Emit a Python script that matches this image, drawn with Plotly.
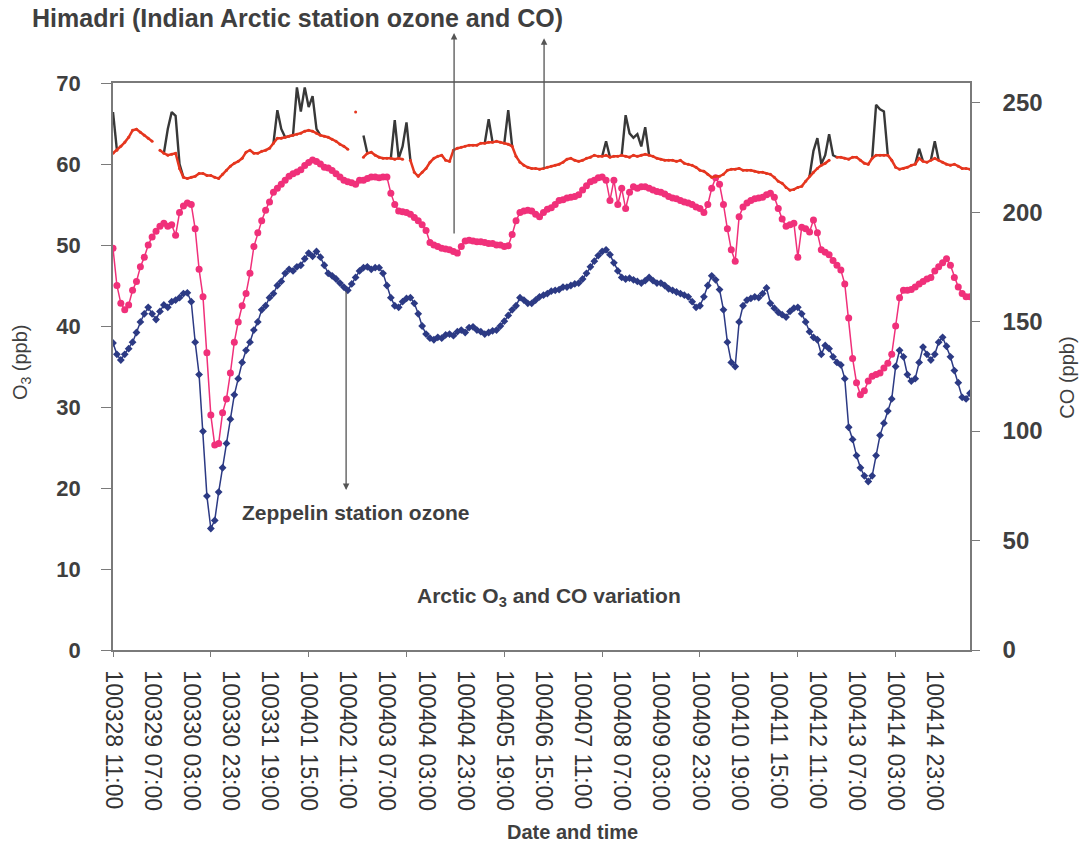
import plotly.graph_objects as go

FONT = "Liberation Sans, Arial, sans-serif"

# hourly axis, values every 2 hours from 100328 11:00
HOURS = list(range(0, 439, 2))

TICK_LABELS = ["100328 11:00", "100329 07:00", "100330 03:00", "100330 23:00",
               "100331 19:00", "100401 15:00", "100402 11:00", "100403 07:00",
               "100404 03:00", "100404 23:00", "100405 19:00", "100406 15:00",
               "100407 11:00", "100408 07:00", "100409 03:00", "100409 23:00",
               "100410 19:00", "100411 15:00", "100412 11:00", "100413 07:00",
               "100414 03:00", "100414 23:00"]
LABEL_STEP_H = 20
TICK_STEP_H = 50

# Zeppelin station ozone (ppb, left axis)
ZEPPELIN_O3 = [
    37.9, 36.5, 35.8, 36.5, 37.2, 38, 39.2, 40.5, 41.5, 42.3, 41.5, 40.8, 41.8, 42.6, 42.3, 43, 43.2, 43.5, 44, 44.1,
    43, 38, 34, 27, 19, 15, 16, 19.5, 22.5, 25.5, 28.5, 31.5, 33.5, 35.5, 37, 38, 39.5, 40.5, 42, 42.5,
    43.5, 44, 45, 45.5, 46.5, 47, 46.8, 47.3, 47.5, 48.3, 49, 48.6, 49.2, 48.5, 47.5, 46.5, 46.2, 45.8, 45.3, 44.8,
    44.4, 45.2, 46, 46.8, 47.2, 47.3, 47, 47.2, 47.2, 46.5, 45, 43.5, 42.5, 42.3, 43, 43.4, 43.5, 42.8, 41.5, 40,
    39, 38.5, 38.3, 38.6, 38.5, 38.9, 39, 38.8, 39.3, 39.5, 39.2, 39.8, 39.9, 39.5, 39.3, 39, 39.2, 39.4, 39.5, 40,
    40.6, 41.3, 42, 42.5, 43.5, 43.2, 42.8, 42.8, 43.2, 43.6, 43.8, 44, 44.3, 44.4, 44.5, 44.8, 44.8, 45, 45.2, 45.3,
    45.8, 46.5, 47.3, 48, 48.7, 49.2, 49.4, 48.8, 47.8, 46.8, 46, 45.8, 45.9, 45.7, 45.5, 45.3, 45.6, 46, 45.6, 45.3,
    45.3, 45, 44.6, 44.4, 44.2, 44, 43.8, 43.6, 43, 42.3, 42.5, 43.6, 45, 46.2, 45.7, 44.5, 42, 38, 35.5, 35,
    40.5, 42.5, 43.2, 43.4, 43.6, 43.5, 44, 44.7, 42.8, 42.2, 41.7, 41.4, 41.1, 41.8, 42.2, 42.3, 41.5, 40.5, 39.3, 38.6,
    38.3, 36.5, 37.6, 37.2, 36.2, 35.5, 35.2, 33.5, 27.5, 26, 24, 22.5, 21.5, 20.8, 21.5, 24, 26.5, 28, 29.5, 31,
    35, 37, 36.2, 34, 33.2, 33.5, 35.5, 37.4, 36.5, 35.8, 36.5, 38, 38.6, 37.5, 36.2, 34.5, 33, 31.2, 31, 31.7,
]

# Himadri ozone (ppb, left axis)
HIMADRI_O3 = [
    49.6, 45, 42.8, 42, 42.6, 44.4, 45.5, 47.3, 48.5, 50, 51, 51.7, 52.3, 52.7, 52.3, 52.5, 51.2, 54, 54.8, 55.2,
    55, 52, 47, 43.6, 36.7, 29, 25.3, 25.5, 29.3, 31, 34.2, 38, 40.5, 42.5, 44, 46.5, 49.8, 51.5, 53, 54.3,
    55.3, 56.5, 57, 57.5, 58, 58.5, 58.8, 59, 59.3, 59.8, 60.2, 60.5, 60.3, 60, 59.6, 59.5, 59.2, 58.8, 58.4, 58,
    57.8, 57.7, 57.5, 58, 58, 58.2, 58.4, 58.4, 58.3, 58.4, 58.4, 56.4, 55, 54.2, 54.1, 54, 53.8, 53.4, 53, 52.5,
    51.8, 50.3, 50, 49.8, 49.6, 49.5, 49.4, 49.2, 49, 49.8, 50.5, 50.6, 50.5, 50.4, 50.4, 50.3, 50.2, 50.2, 50, 50,
    49.8, 49.9, 51.3, 53, 54, 54.2, 54.3, 54.2, 53.8, 53.5, 54, 54.4, 54.6, 55, 55.5, 55.6, 55.8, 55.9, 56, 56.2,
    56.8, 57.3, 57.8, 58, 58.3, 58.4, 58, 55.5, 58, 55, 57, 54.5, 56.5, 57.2, 57, 57.2, 57.2, 57, 56.8, 56.6,
    56.5, 56.3, 56, 55.8, 55.7, 55.5, 55.3, 55.2, 55, 54.7, 54.5, 54, 55, 57, 58.3, 57.5, 55, 52, 49.4, 48,
    53.5, 54.7, 55.2, 55.5, 55.7, 55.8, 55.9, 56.2, 56.4, 55.9, 54.5, 53.2, 52.3, 52.5, 52.7, 48.5, 52.2, 52, 51.6, 53.1,
    51.5, 49.4, 49.1, 48.8, 48.1, 47.5, 46.9, 45.2, 41, 36, 33, 31.5, 32, 33.2, 33.8, 34, 34.2, 34.8, 35.4, 36.5,
    40, 43.5, 44.4, 44.4, 44.5, 44.8, 45.2, 45.5, 45.8, 46, 46.8, 47.3, 47.8, 48.3, 47.5, 46, 44.8, 44, 43.6, 43.6,
]

# Himadri CO (ppb, right axis)
HIMADRI_CO = [
    226.9, 228.3, 230.1, 231.9, 234.2, 237.4, 237.9, 236.5, 235.1, 233.8, 232.4, None, 228.3, 226.9, 226, 226.4, 226.9, 220, 215.9, 215.4,
    215.9, 216.4, 217.7, 217.7, 216.8, 216.8, 215.9, 215.4, 217.3, 219.1, 221, 222.3, 223.2, 224.6, 227.4, 228.3, 226.9, 226.9, 227.8, 228.3,
    229.2, 231.5, 233.8, 233.8, 234.2, 234.7, 235.1, 235.6, 236.1, 237, 237.4, 237, 236.1, 235.1, 234.7, 234.2, 233.3, 232.4, 231, 230.1,
    228.7, None, 245.7, None, 225.1, 226.9, 227.4, 226, 225.1, 224.6, 224.6, 224.6, 224.2, 224.6, 224.2, None, 223.7, 218.2, 216.4, 218.2,
    220, 222.8, 224.6, 225.5, 226, 223.7, 223.2, 228.3, 229.2, 229.6, 230.1, 230.6, 230.6, 230.6, 231.5, 231.5, 231.9, 231.9, 232.4, 231.9,
    231.5, 231, 230.1, 225.5, 222.8, 221.4, 220.5, 220, 220, 219.6, 220, 220.5, 221, 221.4, 221.9, 222.8, 224.2, 224.6, 223.7, 223.2,
    223.7, 224.6, 225.1, 226, 225.5, 225.5, 226, 225.1, 225.5, 225.5, 226, 225.5, 225.1, 226, 225.5, 226, 226.4, 226, 225.5, 224.6,
    224.2, 223.7, 223.7, 223.7, 223.2, 223.7, 222.3, 221.9, 221.4, 220.5, 219.1, 218.7, 217.3, 215.9, 216.4, 216.4, 217.3, 219.1, 219.6, 219.6,
    220, 219.1, 219.1, 219.1, 218.7, 218.2, 218.2, 217.7, 217.3, 215.9, 214.1, 213.2, 211.3, 210, 210.4, 211.3, 211.8, 214.1, 216.4, 218.2,
    220, 221.4, 222.3, 223.7, None, 225.1, 225.1, 224.6, 224.2, 225.1, 225.1, 223.7, 222.3, 221.9, 224.6, 226, 226, 226, 226, 223.7,
    220.5, 219.6, 220, 220.5, 221.4, 221.9, 224.6, 223.2, 222.8, 223.7, 224.6, 223.7, 222.8, 221.9, 221.4, 221.9, 221, 220, 220, 219.6,
]

N = None
# Himadri peaks (dark trace, right axis)
HIMADRI_PEAKS = [
    245.7, 228.3, N, N, N, N, N, N, N, N, N, N, N, 226.9, 238, 245.7, 244, 222, 215.9, N,
    N, N, N, N, N, N, N, N, N, N, N, N, N, N, N, N, N, N, N, N,
    N, 231.5, 246.6, 238, 234.2, 234.7, 235.1, 257, 246, 257, 248, 253, 238, 235.1, N, N, N, N, N, N,
    N, N, N, N, 235, 226.9, N, N, N, N, N, 224.6, 242, 224.6, 230, 241, 223.7, N, N, N,
    N, N, N, N, N, N, N, N, N, N, N, N, N, N, N, 231.5, 242.5, 231.9, N, N,
    231.5, 246.6, 230.1, N, N, N, N, N, N, N, N, N, N, N, N, N, N, N, N, N,
    N, N, N, N, N, 225.5, 232.4, 225.1, N, N, 226, 244.3, 236, 234, 235.6, 230, 238.8, 226, N, N,
    N, N, N, N, N, N, N, N, N, N, N, N, N, N, N, N, N, N, N, N,
    N, N, N, N, N, N, N, N, N, N, N, N, N, N, N, N, N, N, 216.4, 228,
    233.8, 222, 226, 235.6, 226, 225.1, N, N, N, N, N, N, N, N, 224.6, 249, 247, 246, 226, N,
    N, N, N, N, N, 221.9, 229, 223.2, N, 223.7, 232.4, 223.7, N, N, N, N, N, N, N, N,
]

X_MAX = HOURS[-1]
AXIS_GRAY = "#7a7a7a"
TEXT_GRAY = "#3f3f3f"

fig = go.Figure()

fig.add_trace(go.Scatter(
    x=HOURS, y=ZEPPELIN_O3, xaxis="x2", yaxis="y", mode="lines+markers",
    line=dict(color="#2c3a84", width=1.5),
    marker=dict(symbol="diamond", size=6, color="#2c3a84"),
    name="Zeppelin O3"))

fig.add_trace(go.Scatter(
    x=HOURS, y=HIMADRI_O3, xaxis="x", yaxis="y", mode="lines+markers",
    line=dict(color="#f0307a", width=1.5),
    marker=dict(symbol="circle", size=7, color="#f0307a"),
    name="Himadri O3"))

fig.add_trace(go.Scatter(
    x=HOURS, y=HIMADRI_PEAKS, xaxis="x", yaxis="y2", mode="lines",
    line=dict(color="#383838", width=2.4),
    name="Himadri peaks"))

fig.add_trace(go.Scatter(
    x=HOURS, y=HIMADRI_CO, xaxis="x", yaxis="y2", mode="lines+markers",
    line=dict(color="#e5361f", width=2.5),
    marker=dict(size=3, color="#e5361f"),
    name="Himadri CO"))

tick_font_bold = dict(family=FONT, color=TEXT_GRAY, weight="bold")

fig.update_layout(
    width=1080, height=846,
    margin=dict(l=113, r=110, t=83, b=196),
    paper_bgcolor="white", plot_bgcolor="white",
    showlegend=False,
    xaxis=dict(
        range=[0, X_MAX], tickmode="array",
        tickvals=[i * LABEL_STEP_H for i in range(len(TICK_LABELS))],
        ticktext=TICK_LABELS, tickangle=90, ticks="",
        tickfont=dict(family=FONT, size=23, color="#333333"),
        ticklabelstandoff=14,
        showline=True, linecolor=AXIS_GRAY, linewidth=1.5, mirror=True,
        showgrid=False, zeroline=False),
    xaxis2=dict(
        overlaying="x", anchor="y", side="bottom", range=[0, X_MAX],
        tickmode="array",
        tickvals=list(range(0, X_MAX, TICK_STEP_H)),
        ticks="outside", ticklen=6, tickcolor=AXIS_GRAY, tickwidth=1.2,
        showticklabels=False, showline=False, showgrid=False, zeroline=False),
    yaxis=dict(
        range=[0, 70], dtick=10, ticks="outside", ticklen=10,
        tickcolor=AXIS_GRAY, tickwidth=1.2,
        tickfont=dict(size=22, **tick_font_bold), ticklabelstandoff=16,
        showline=True, linecolor=AXIS_GRAY, linewidth=1.5,
        showgrid=False, zeroline=False),
    yaxis2=dict(
        overlaying="y", side="right", anchor="x",
        range=[0, 259], dtick=50, ticks="outside", ticklen=8,
        tickcolor=AXIS_GRAY, tickwidth=1.2,
        tickfont=dict(size=24, **tick_font_bold), ticklabelstandoff=18,
        showline=True, linecolor=AXIS_GRAY, linewidth=1.5,
        showgrid=False, zeroline=False),
)

def ann(text, x, y, size, bold=True, angle=0, xanchor="center"):
    fig.add_annotation(
        text=text, x=x, y=y, xref="paper", yref="paper", showarrow=False,
        textangle=angle, xanchor=xanchor, yanchor="middle",
        font=dict(family=FONT, size=size, color=TEXT_GRAY,
                  weight="bold" if bold else "normal"))

ann("Himadri (Indian Arctic station ozone and CO)", -0.097, 1.115, 25, xanchor="left")
ann("Date and time", 0.536, -0.321, 20)
ann("O<sub>3</sub> (ppb)", -0.106, 0.508, 20, bold=False, angle=-90)
ann("CO (ppb)", 1.113, 0.48, 20, bold=False, angle=-90)
ann("Zeppelin station ozone", 0.148, 0.243, 21, xanchor="left")
ann("Arctic O<sub>3</sub> and CO variation", 0.352, 0.0935, 21, xanchor="left")

def arrow(x, y, ay):
    fig.add_annotation(
        text="", x=x, y=y, xref="paper", yref="paper", ax=0, ay=ay,
        showarrow=True, arrowhead=2, arrowsize=1, arrowwidth=1.3,
        arrowcolor="#555555")

arrow(0.398, 1.088, 202)
arrow(0.503, 1.079, 131)
arrow(0.272, 0.282, -200)

fig.write_html("out.html")
